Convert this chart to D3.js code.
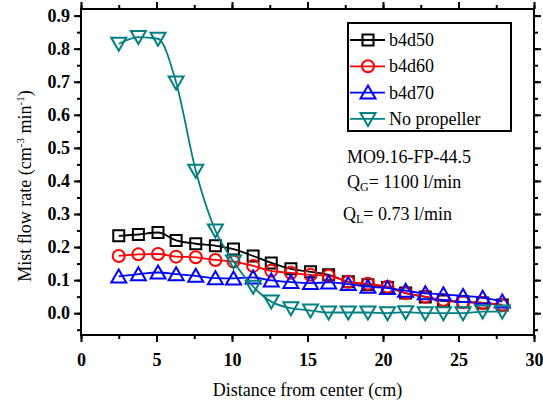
<!DOCTYPE html>
<html lang="en">
<head>
    <meta charset="UTF-8">
    <title>Mist flow rate</title>
    <script src="https://d3js.org/d3.v7.min.js"></script>
    <style>
        body { margin: 0; background: #fff; }
        text { font-family: "Liberation Serif", "Times New Roman", serif; fill: #000; }
        .tick-label { font-weight: bold; font-size: 18px; }
    </style>
</head>
<body>
<svg id="main" width="543" height="402"></svg>
<script>
    // data
    const distance = [2.5, 3.8, 5.1, 6.3, 7.6, 8.9, 10.1, 11.4, 12.6, 13.9, 15.2, 16.4, 17.7, 19.0, 20.3, 21.5, 22.8, 24.0, 25.3, 26.6, 27.9];
    const b4d50 = [0.234, 0.238, 0.244, 0.220, 0.210, 0.204, 0.194, 0.173, 0.152, 0.134, 0.125, 0.116, 0.095, 0.086, 0.078, 0.061, 0.049, 0.037, 0.034, 0.031, 0.025];
    const b4d60 = [0.173, 0.178, 0.179, 0.171, 0.169, 0.161, 0.156, 0.143, 0.128, 0.122, 0.116, 0.113, 0.095, 0.089, 0.080, 0.061, 0.050, 0.040, 0.034, 0.031, 0.025];
    const b4d70 = [0.111, 0.118, 0.123, 0.118, 0.113, 0.106, 0.105, 0.108, 0.099, 0.094, 0.091, 0.093, 0.088, 0.080, 0.076, 0.068, 0.060, 0.057, 0.052, 0.047, 0.035];
    const noPropeller = [0.815, 0.835, 0.830, 0.698, 0.431, 0.250, 0.156, 0.080, 0.035, 0.015, 0.008, 0.002, 0.002, 0.002, 0.000, 0.003, 0.000, 0.000, 0.000, 0.005, 0.005];

    const seriesNames = ['b4d50', 'b4d60', 'b4d70', 'No propeller'];
    const seriesValues = [b4d50, b4d60, b4d70, noPropeller];
    const seriesColors = ['#000000', '#ff0000', '#0000ff', '#008080'];
    const seriesMarkers = ['square', 'circle', 'triangle', 'down'];

    const xTicks = [0, 5, 10, 15, 20, 25, 30];
    const yTicks = [0.0, 0.1, 0.2, 0.3, 0.4, 0.5, 0.6, 0.7, 0.8, 0.9];

    let svg = d3.select('svg#main');
    let plot = {left: 81, right: 534, top: 9, bottom: 335};

    let xScale = d3.scaleLinear().domain([0, 30]).range([plot.left, plot.right]);
    let yScale = d3.scaleLinear().domain([-0.066, 0.92]).range([plot.bottom, plot.top]);

    // markers drawn as paths centred on 0,0
    function markerPath(kind) {
        if (kind === 'square') return 'M-5.5,-5.5H5.5V5.5H-5.5Z';
        if (kind === 'circle') return 'M6,0A6,6 0 1,1 -6,0A6,6 0 1,1 6,0Z';
        if (kind === 'triangle') return 'M0,-7L7.5,6H-7.5Z';
        return 'M0,7L7.5,-6H-7.5Z';
    }

    // frame
    svg.append('rect')
        .attr('x', plot.left).attr('y', plot.top)
        .attr('width', plot.right - plot.left).attr('height', plot.bottom - plot.top)
        .attr('fill', 'none').attr('stroke', '#000').attr('stroke-width', 2);

    let xMinor = d3.range(0, 30.01, 2.5);
    let yMinor = d3.range(-0.05, 0.901, 0.05);

    // bottom + top axis
    let bottomAxis = d3.axisBottom(xScale).tickValues(xTicks).tickSize(7).tickFormat(d3.format('d'));
    let gb = svg.append('g').attr('transform', `translate(0,${plot.bottom})`).call(bottomAxis);
    gb.select('.domain').remove();
    gb.selectAll('text').attr('class', 'tick-label').attr('y', 9).attr('dy', '1.22em');
    svg.append('g').attr('transform', `translate(0,${plot.bottom})`)
        .call(d3.axisBottom(xScale).tickValues(xMinor).tickSize(4).tickFormat(''))
        .select('.domain').remove();
    svg.append('g').attr('transform', `translate(0,${plot.top})`)
        .call(d3.axisTop(xScale).tickValues(xMinor).tickSize(4).tickFormat(''))
        .select('.domain').remove();
    svg.append('g').attr('transform', `translate(0,${plot.top})`)
        .call(d3.axisTop(xScale).tickValues(xTicks).tickSize(7).tickFormat(''))
        .select('.domain').remove();

    // left + right axis
    let leftAxis = d3.axisLeft(yScale).tickValues(yTicks).tickSize(7).tickFormat(d3.format('.1f'));
    let gl = svg.append('g').attr('transform', `translate(${plot.left},0)`).call(leftAxis);
    gl.select('.domain').remove();
    gl.selectAll('text').attr('class', 'tick-label').attr('x', -11);
    svg.append('g').attr('transform', `translate(${plot.left},0)`)
        .call(d3.axisLeft(yScale).tickValues(yMinor).tickSize(4).tickFormat(''))
        .select('.domain').remove();
    svg.append('g').attr('transform', `translate(${plot.right},0)`)
        .call(d3.axisRight(yScale).tickValues(yMinor).tickSize(4).tickFormat(''))
        .select('.domain').remove();
    svg.append('g').attr('transform', `translate(${plot.right},0)`)
        .call(d3.axisRight(yScale).tickValues(yTicks).tickSize(7).tickFormat(''))
        .select('.domain').remove();
    svg.selectAll('.tick line').attr('stroke-width', 2);

    // series
    let line = d3.line()
        .x(function(d){return xScale(d[0]);})
        .y(function(d){return yScale(d[1]);})
        .curve(d3.curveMonotoneX);

    seriesValues.forEach(function(vals, i){
        let pts = distance.map(function(x, j){return [x, vals[j]];});
        let g = svg.append('g');
        g.append('path')
            .attr('d', line(pts))
            .attr('fill', 'none')
            .attr('stroke', seriesColors[i])
            .attr('stroke-width', 1.8);
        g.selectAll('path.mk')
            .data(pts)
            .enter()
            .append('path')
            .attr('class', 'mk')
            .attr('d', markerPath(seriesMarkers[i]))
            .attr('transform', function(d){return `translate(${xScale(d[0])},${yScale(d[1])})`;})
            .attr('fill', 'none')
            .attr('stroke', seriesColors[i])
            .attr('stroke-width', 2);
    });

    // legend
    let legend = svg.append('g');
    legend.append('rect')
        .attr('x', 348).attr('y', 23).attr('width', 163).attr('height', 108)
        .attr('fill', '#fff').attr('stroke', '#000').attr('stroke-width', 2);
    seriesNames.forEach(function(name, i){
        let y = 40 + i * 26.3;
        legend.append('line')
            .attr('x1', 350).attr('x2', 385).attr('y1', y).attr('y2', y)
            .attr('stroke', seriesColors[i]).attr('stroke-width', 1.8);
        legend.append('path')
            .attr('d', markerPath(seriesMarkers[i]))
            .attr('transform', `translate(368,${y})`)
            .attr('fill', 'none').attr('stroke', seriesColors[i]).attr('stroke-width', 2);
        legend.append('text')
            .attr('x', 389).attr('y', y + 6)
            .style('font-size', '18px')
            .text(name);
    });

    // annotations
    svg.append('text').attr('x', 347).attr('y', 163).style('font-size', '18px').text('MO9.16-FP-44.5');
    let qg = svg.append('text').attr('x', 347).attr('y', 188).style('font-size', '18px');
    qg.append('tspan').text('Q');
    qg.append('tspan').attr('dy', 3).style('font-size', '12px').text('G');
    qg.append('tspan').attr('dy', -3).text('= 1100 l/min');
    let ql = svg.append('text').attr('x', 343).attr('y', 220).style('font-size', '18px');
    ql.append('tspan').text('Q');
    ql.append('tspan').attr('dy', 3).style('font-size', '12px').text('L');
    ql.append('tspan').attr('dy', -3).text('= 0.73 l/min');

    // axis titles
    svg.append('text')
        .attr('x', (plot.left + plot.right) / 2).attr('y', 396)
        .attr('text-anchor', 'middle').style('font-size', '18px')
        .text('Distance from center (cm)');
    let yl = svg.append('text')
        .attr('transform', 'translate(31,186) rotate(-90)')
        .attr('text-anchor', 'middle').style('font-size', '18px');
    yl.append('tspan').text('Mist flow rate (cm');
    yl.append('tspan').attr('dy', -7).style('font-size', '11px').text('-3');
    yl.append('tspan').attr('dy', 7).text(' min');
    yl.append('tspan').attr('dy', -7).style('font-size', '11px').text('-1');
    yl.append('tspan').attr('dy', 7).text(')');
</script>
</body>
</html>
